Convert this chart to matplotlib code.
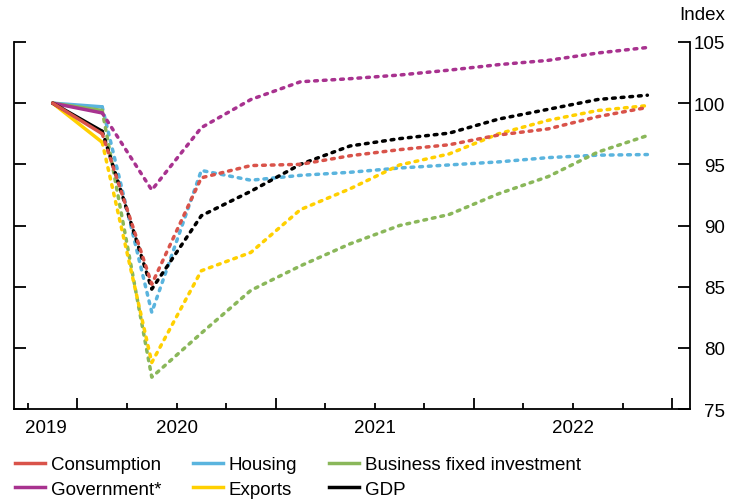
import numpy as np
import matplotlib
matplotlib.use("Agg")
import matplotlib.pyplot as plt
from matplotlib.lines import Line2D
import matplotlib.transforms as mtransforms

plt.rcParams['font.family'] = ['Liberation Sans', 'DejaVu Sans']

# quarterly index, 2019 Q4 = 100 (2019Q4 .. 2022Q4)
quarters = ["2019Q4", "2020Q1", "2020Q2", "2020Q3", "2020Q4",
            "2021Q1", "2021Q2", "2021Q3", "2021Q4",
            "2022Q1", "2022Q2", "2022Q3", "2022Q4"]
consumption = [100, 97.5, 85.2, 93.9, 94.9, 95.0, 95.7, 96.2, 96.6, 97.4, 97.9, 98.9, 99.65]
housing = [100, 99.7, 82.9, 94.5, 93.7, 94.1, 94.35, 94.7, 94.95, 95.2, 95.55, 95.75, 95.8]
business_inv = [100, 99.4, 77.6, 81.2, 84.7, 86.7, 88.5, 90.0, 90.9, 92.6, 94.0, 96.0, 97.35]
government = [100, 99.2, 92.9, 98.0, 100.3, 101.75, 102.0, 102.3, 102.7, 103.15, 103.5, 104.1, 104.55]
exports = [100, 96.8, 78.8, 86.3, 87.8, 91.3, 93.0, 94.95, 95.85, 97.5, 98.6, 99.4, 99.8]
gdp = [100, 97.7, 84.8, 90.8, 92.8, 95.0, 96.5, 97.1, 97.55, 98.7, 99.5, 100.3, 100.65]

year_labels = ["2019", "2020", "2021", "2022"]
y_ticks = [75, 80, 85, 90, 95, 100, 105]

# quarter mid-points as decimal years
x = np.array([int(q[:4]) + (int(q[-1]) - 0.5) / 4 for q in quarters])

series = {
    "Consumption": (consumption, "#d9534a"),
    "Housing": (housing, "#5ab4de"),
    "Business fixed investment": (business_inv, "#8ab75a"),
    "Government*": (government, "#a8328f"),
    "Exports": (exports, "#ffd000"),
    "GDP": (gdp, "#000000"),
}

FS = 13.5

fig = plt.figure(figsize=(7.3, 5.02), dpi=100)
ax = fig.add_axes([14 / 730, 1 - 410 / 502, (690 - 14) / 730, (410 - 43) / 502])

draw_order = ["Housing", "Business fixed investment", "Exports", "Government*", "GDP", "Consumption"]
for z, name in enumerate(draw_order):
    vals, col = series[name]
    # actual data: solid
    ax.plot(x[:2], vals[:2], color=col, lw=2.5, solid_capstyle='round', zorder=3 + z)
    # forecast: dotted
    ax.plot(x[1:], vals[1:], color=col, lw=2.5, linestyle=(0, (0.8, 1.7)),
            dash_capstyle='round', zorder=3 + z)

ax.set_xlim(2019.68, 2023.09)
ax.set_ylim(75, 105)

ax.spines["top"].set_visible(False)
for side in ["left", "right", "bottom"]:
    ax.spines[side].set_linewidth(1.3)

ax.yaxis.tick_right()
ax.set_yticks(y_ticks)
ax.tick_params(axis='y', which='both', direction='in', length=8.5, width=1.3,
               left=True, right=True, labelleft=False, labelright=True,
               labelsize=FS, pad=25)
for lbl in ax.get_yticklabels():
    lbl.set_horizontalalignment('right')

ax.set_xticks([2020, 2021, 2022, 2023])
ax.set_xticks(np.arange(2019.75, 2023.01, 0.25), minor=True)
ax.tick_params(axis='x', which='major', direction='in', length=8, width=1.3, labelbottom=False)
ax.tick_params(axis='x', which='minor', direction='in', length=4.5, width=1.3)

trans = mtransforms.blended_transform_factory(ax.transData, ax.transAxes)
label_pos = [(2019.68 + 2020) / 2, 2020.5, 2021.5, 2022.5]
for lx, lab in zip(label_pos, year_labels):
    ax.text(lx, -0.05, lab, transform=trans, ha='center', va='center', fontsize=FS)

fig.text(725 / 730, 1 - 15 / 502, "Index", ha='right', va='center', fontsize=FS)

# legend filled column-wise: rows are (Consumption, Housing, BFI) / (Government, Exports, GDP)
legend_order = ["Consumption", "Government*", "Housing", "Exports", "Business fixed investment", "GDP"]
handles = [Line2D([], [], color=series[n][1], lw=2.5) for n in legend_order]
fig.legend(handles, legend_order, ncol=3, loc='upper left', bbox_to_anchor=(15 / 730, 1 - 457 / 502),
           frameon=False, fontsize=FS, borderpad=0, borderaxespad=0, handlelength=1.6,
           handletextpad=0.3, columnspacing=1.7, labelspacing=0.4)

fig.savefig("out.png", dpi=100)
